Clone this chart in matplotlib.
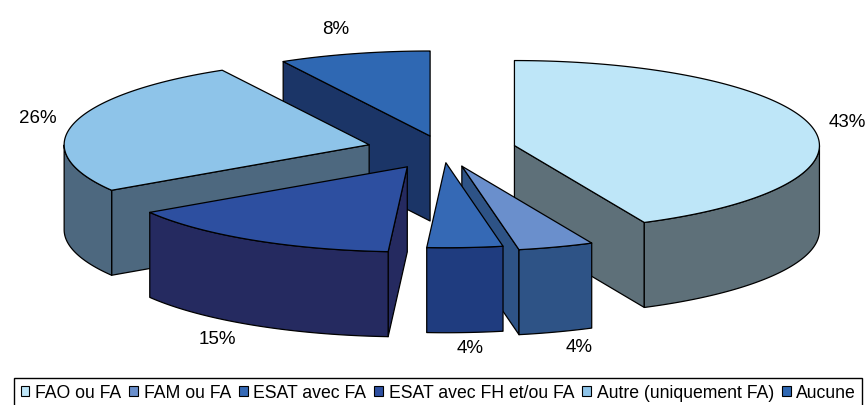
import numpy as np
import matplotlib.pyplot as plt
from matplotlib.patches import Polygon, Patch

# donnees
categories = ['FAO ou FA', 'FAM ou FA', 'ESAT avec FA', 'ESAT avec FH et/ou FA',
              'Autre (uniquement FA)', 'Aucune']
values = [43, 4, 4, 15, 26, 8]
labels = ['43%', '4%', '4%', '15%', '26%', '8%']
explode = [0.24, 0.2, 0.15, 0.23, 0.25, 0.17]

top_colors = ['#BEE6F8', '#6A8FCC', '#3569B5', '#2D4FA0', '#8EC4E9', '#2F68B3']
side_colors = ['#5E7079', '#2E5386', '#1F3C7F', '#252A60', '#4D687F', '#1B3567']

plt.rcParams['font.family'] = ['Liberation Sans', 'DejaVu Sans']

fig = plt.figure(figsize=(8.68, 4.06), dpi=100)
ax = fig.add_axes([0, 0, 1, 1])
ax.set_xlim(0, 868)
ax.set_ylim(406, 0)
ax.axis('off')

# geometrie du camembert 3D (en pixels)
cx, cy = 443, 151
rx, ry, h = 305, 85, 85


def point(x0, y0, t, dy=0):
    return x0 + rx * np.cos(t), y0 - ry * np.sin(t) + dy


def poly(pts, color):
    ax.add_patch(Polygon(pts, closed=True, facecolor=color, edgecolor='black',
                         linewidth=0.9, joinstyle='round'))


slices = []
cum = 0
for i, v in enumerate(values):
    t_hi = np.radians(90 - cum * 3.6)
    t_lo = t_hi - np.radians(v * 3.6)
    mid = (t_hi + t_lo) / 2
    x0 = cx + explode[i] * rx * np.cos(mid)
    y0 = cy - explode[i] * ry * np.sin(mid)
    slices.append((i, t_hi, t_lo, mid, x0, y0))
    cum += v

# du fond vers l'avant
slices.sort(key=lambda s: -np.sin(s[3]))

for i, t_hi, t_lo, mid, x0, y0 in slices:
    # faces radiales visibles
    for t, visible in [(t_lo, np.cos(t_lo) > 1e-6), (t_hi, np.cos(t_hi) < -1e-6)]:
        if visible:
            px, py = point(x0, y0, t)
            poly([(x0, y0), (px, py), (px, py + h), (x0, y0 + h)], side_colors[i])

    # cote exterieur (moitie avant)
    arc = np.linspace(t_hi, t_lo, 300)
    front = arc[np.sin(arc) < 0]
    if len(front) > 1:
        tx, ty = point(x0, y0, front)
        pts = list(zip(tx, ty)) + list(zip(tx[::-1], ty[::-1] + h))
        poly(pts, side_colors[i])

    # face du dessus
    ax_, ay_ = point(x0, y0, arc)
    poly([(x0, y0)] + list(zip(ax_, ay_)), top_colors[i])

    # etiquette
    s = np.sin(mid)
    lx = x0 + (1.08 + 0.17 * abs(s)) * rx * np.cos(mid)
    if s > 0:
        ly = y0 - 1.3 * ry * s
    else:
        ly = y0 - 1.18 * ry * s + h
    ax.text(lx, ly, labels[i], ha='center', va='center', fontsize=13.5)

handles = [Patch(facecolor=c, edgecolor='black', linewidth=0.8) for c in top_colors]
fig.legend(handles, categories, loc='upper center', bbox_to_anchor=(0.505, 0.066), ncol=6,
           frameon=True, fancybox=False, edgecolor='black', framealpha=1,
           handlelength=0.5, handleheight=0.5, handletextpad=0.32, columnspacing=0.45,
           borderpad=0.35, borderaxespad=0, fontsize=12.7)

fig.savefig('out.png', dpi=100)
